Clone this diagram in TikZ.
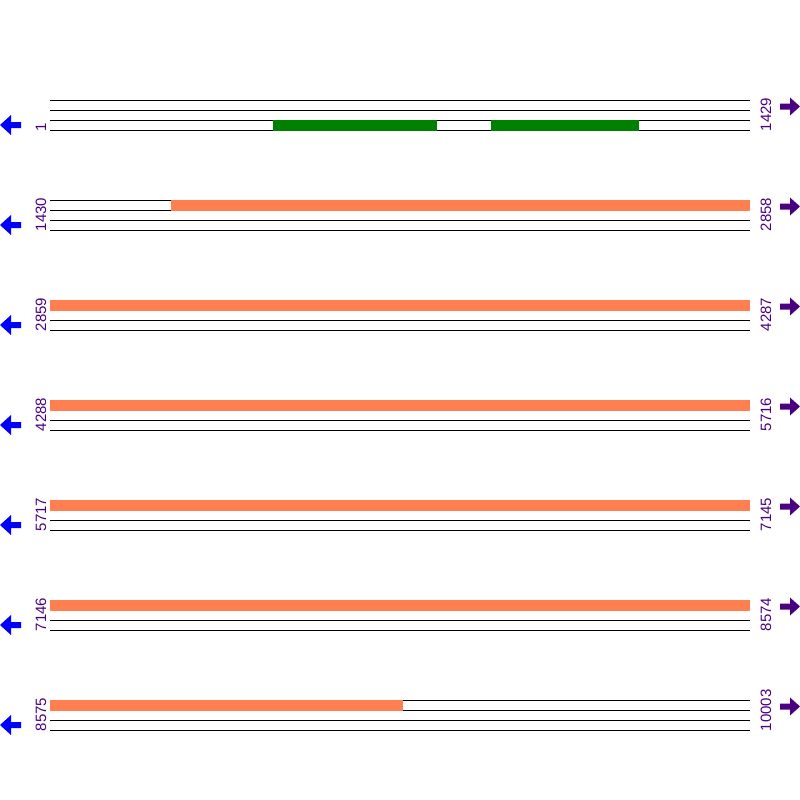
\documentclass[tikz,border=0pt]{standalone}
\usepackage{fontspec}
\setmainfont{Liberation Sans}
\usepackage{tikz}
\usetikzlibrary{positioning}
\definecolor{seqnum}{RGB}{75,0,130}
\definecolor{orfgreen}{RGB}{0,128,0}
\definecolor{orfcoral}{RGB}{255,127,80}
\tikzstyle{strand} = [black, line width=1pt]
\tikzstyle{coord} = [text=seqnum, font=\fontsize{15}{15}\selectfont, rotate=90, anchor=base west, inner sep=0pt]
\tikzstyle{orf} = [draw=none]

\begin{document}
\begin{tikzpicture}[x=1pt, y=-1pt]
			\useasboundingbox (0,0) rectangle (800,800);
			\foreach \row/\first/\last in {0/1/1429, 1/1430/2858, 2/2859/4287, 3/4288/5716, 4/5717/7145, 5/7146/8574, 6/8575/10003} {
				\pgfmathsetmacro\y{100+100*\row}
				\foreach \k in {0,...,3}
					\draw[strand] (50,\y+10*\k) -- (750,\y+10*\k);
				\node[coord] (start \row) at (46,\y+31.5)  {\first};
				\node[coord] (end \row)   at (771,\y+31.5) {\last};
				\fill[blue] (0,\y+25) -- (11,\y+15) -- (11,\y+22) -- (21,\y+22) -- (21,\y+28) -- (11,\y+28) -- (11,\y+35) -- cycle;
				\fill[seqnum] (800,\y+6.5) -- (790,\y-2.5) -- (790,\y+3.5) -- (780,\y+3.5) -- (780,\y+9.5) -- (790,\y+9.5) -- (790,\y+15.5) -- cycle;
			}
			% open reading frames
			\fill[orf, orfgreen] (273,119.5) rectangle (437,130.5);
			\fill[orf, orfgreen] (491,119.5) rectangle (639,130.5);
			\fill[orf, orfcoral] (171,199.5) rectangle (750,210.5);
			\foreach \row in {2,...,5}
				\fill[orf, orfcoral] (50,100*\row+99.5) rectangle (750,100*\row+110.5);
			\fill[orf, orfcoral] (50,699.5) rectangle (403,710.5);
		\end{tikzpicture}
\end{document}
